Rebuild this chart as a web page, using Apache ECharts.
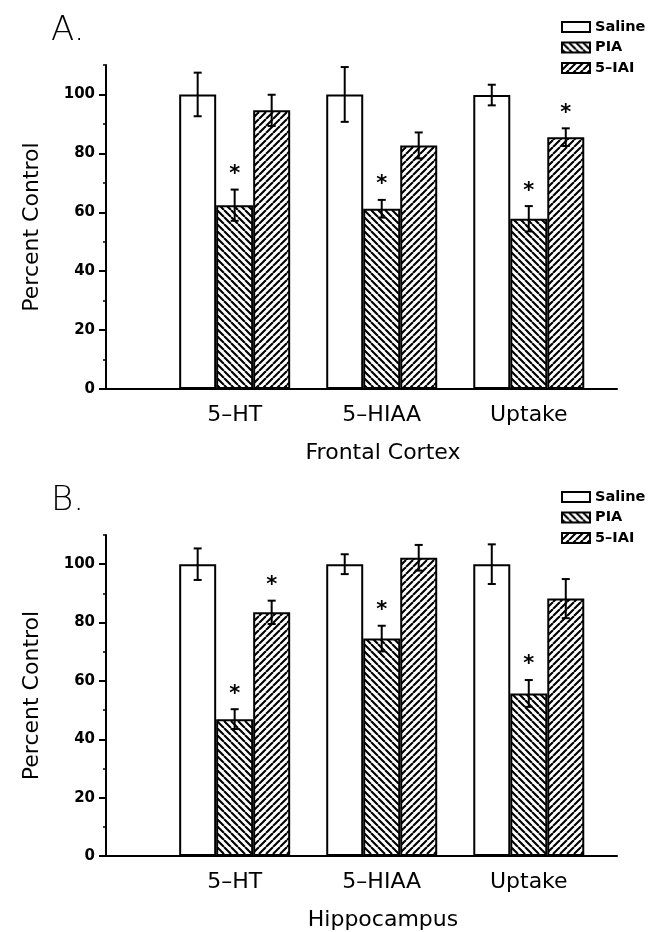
<!DOCTYPE html>
<html>
<head>
<meta charset="utf-8">
<script src="https://cdn.jsdelivr.net/npm/echarts@6/dist/echarts.min.js"></script>
<style>
html,body{margin:0;padding:0;background:#fff;}
#chart{width:649px;height:932px;}
</style>
</head>
<body>
<div id="chart"></div>
<script>
// ---- data ----
const categories = ['5\u2013HT', '5\u2013HIAA', 'Uptake'];
const seriesNames = ['Saline', 'PIA', '5\u2013IAI'];
const panelTitles = ['A.', 'B.'];
const regionNames = ['Frontal Cortex', 'Hippocampus'];
const yTicks = [0, 20, 40, 60, 80, 100];

// Panel A: Frontal Cortex
const fcSaline = [100, 100, 99.8];
const fcPIA = [62.4, 61.2, 57.8];
const fcIAI = [94.6, 82.7, 85.5];
const fcSalineErr = [7.4, 9.3, 3.5];
const fcPIAErr = [5.3, 3.0, 4.3];
const fcIAIErr = [5.3, 4.4, 3.0];
const fcSalineSig = [0, 0, 0];
const fcPIASig = [1, 1, 1];
const fcIAISig = [0, 0, 1];

// Panel B: Hippocampus
const hcSaline = [100, 100, 100];
const hcPIA = [46.9, 74.5, 55.7];
const hcIAI = [83.5, 102.2, 88.2];
const hcSalineErr = [5.4, 3.4, 6.8];
const hcPIAErr = [3.4, 4.4, 4.6];
const hcIAIErr = [4.0, 4.4, 6.7];
const hcSalineSig = [0, 0, 0];
const hcPIASig = [1, 1, 1];
const hcIAISig = [1, 0, 0];

const panels = [
  { values: [fcSaline, fcPIA, fcIAI], errs: [fcSalineErr, fcPIAErr, fcIAIErr], sigs: [fcSalineSig, fcPIASig, fcIAISig] },
  { values: [hcSaline, hcPIA, hcIAI], errs: [hcSalineErr, hcPIAErr, hcIAIErr], sigs: [hcSalineSig, hcPIASig, hcIAISig] }
];

// ---- styles ----
const FONT = "'DejaVu Sans', sans-serif";
const BAR_W = 37;

function hatch(dir) {
  const T = 7;
  const c = document.createElement('canvas');
  c.width = T; c.height = T;
  const g = c.getContext('2d');
  g.fillStyle = '#fff';
  g.fillRect(0, 0, T, T);
  g.strokeStyle = '#000';
  g.lineWidth = 2.1;
  g.beginPath();
  for (const k of [-T, 0, T]) {
    if (dir === 'back') { g.moveTo(k, 0); g.lineTo(k + T, T); }
    else { g.moveTo(k + T, 0); g.lineTo(k, T); }
  }
  g.stroke();
  return { image: c, repeat: 'repeat' };
}
const fills = ['#ffffff', hatch('back'), hatch('fwd')];

const grids = [
  { left: 106, top: 65, width: 511, height: 324 },
  { left: 106, top: 535, width: 511, height: 323 }
];

const option = {
  animation: false,
  backgroundColor: '#fff',
  title: panelTitles.map((t, p) => ({
    text: t, left: 51, top: p === 0 ? 14 : 484, padding: 0,
    textStyle: { fontFamily: FONT, fontSize: 34, fontWeight: 200, color: '#000' }
  })),
  legend: [0, 1].map(p => ({
    data: seriesNames,
    orient: 'vertical', left: 556, top: p === 0 ? 13 : 483,
    itemWidth: 28, itemHeight: 10, itemGap: 2.5,
    selectedMode: false, icon: 'rect',
    textStyle: { fontFamily: FONT, fontSize: 14.5, fontWeight: 'bold', color: '#000', lineHeight: 18 }
  })),
  grid: grids,
  xAxis: [0, 1].map(p => ({
    type: 'value', gridIndex: p, min: 0.125, max: 3.6,
    axisLine: { show: true, onZero: false, lineStyle: { color: '#000', width: 2 } },
    axisTick: { show: false }, splitLine: { show: false },
    axisLabel: {
      customValues: [1, 2, 3],
      formatter: v => categories[Math.round(v) - 1] || '',
      fontFamily: FONT, fontSize: 22, color: '#000', margin: 15
    },
    name: regionNames[p], nameLocation: 'middle', nameGap: 53,
    nameTextStyle: { fontFamily: FONT, fontSize: 22, color: '#000', padding: [0, 0, 0, 43] }
  })),
  yAxis: [0, 1].flatMap(p => [
    {
      type: 'value', gridIndex: p, position: 'left', min: 0, max: 110, interval: 20,
      axisLine: { show: true, lineStyle: { color: '#000', width: 2 } },
      axisTick: { show: true, length: 7, customValues: yTicks, lineStyle: { color: '#000', width: 2 } },
      axisLabel: { customValues: yTicks, fontFamily: FONT, fontSize: 15, fontWeight: 'bold', color: '#000', margin: 11 },
      splitLine: { show: false },
      name: 'Percent Control', nameLocation: 'middle', nameGap: 63,
      nameTextStyle: { fontFamily: FONT, fontSize: 22, color: '#000' }
    },
    {
      type: 'value', gridIndex: p, position: 'left', min: 0, max: 110, interval: 10,
      axisLine: { show: false },
      axisTick: { show: true, length: 3, lineStyle: { color: '#000', width: 1.5 } },
      axisLabel: { show: false }, splitLine: { show: false }
    }
  ]),
  series: []
};

panels.forEach((pd, p) => {
  seriesNames.forEach((name, s) => {
    option.series.push({
      type: 'bar', name: name, xAxisIndex: p, yAxisIndex: p * 2,
      data: pd.values[s].map((v, i) => [i + 1, v]),
      barWidth: BAR_W, barGap: '0%',
      itemStyle: { color: fills[s], borderColor: '#000', borderWidth: 2 },
      emphasis: { disabled: true }, silent: true, z: 2
    });
  });
  const errData = [];
  seriesNames.forEach((name, s) => {
    pd.values[s].forEach((v, i) => errData.push([i + 1, v, pd.errs[s][i], s, pd.sigs[s][i]]));
  });
  option.series.push({
    type: 'custom', xAxisIndex: p, yAxisIndex: p * 2, z: 5, silent: true, clip: false,
    data: errData,
    renderItem: (params, api) => {
      const x = api.value(0), v = api.value(1), e = api.value(2), s = api.value(3), sig = api.value(4);
      const hi = api.coord([x, v + e]);
      const lo = api.coord([x, v - e]);
      const cx = hi[0] + (s - 1) * BAR_W;
      const st = { stroke: '#000', lineWidth: 2 };
      const ch = [
        { type: 'line', shape: { x1: cx, y1: hi[1], x2: cx, y2: lo[1] }, style: st },
        { type: 'line', shape: { x1: cx - 4, y1: hi[1], x2: cx + 4, y2: hi[1] }, style: st },
        { type: 'line', shape: { x1: cx - 4, y1: lo[1], x2: cx + 4, y2: lo[1] }, style: st }
      ];
      if (sig) {
        ch.push({ type: 'text', x: cx, y: hi[1] - 20 + 5,
          style: { text: '*', fontFamily: FONT, fontSize: 21, fontWeight: 'bold', fill: '#000', align: 'center', verticalAlign: 'middle' } });
      }
      return { type: 'group', children: ch };
    }
  });
});

const chart = echarts.init(document.getElementById('chart'), null, { renderer: 'canvas' });
chart.setOption(option);
</script>
</body>
</html>
